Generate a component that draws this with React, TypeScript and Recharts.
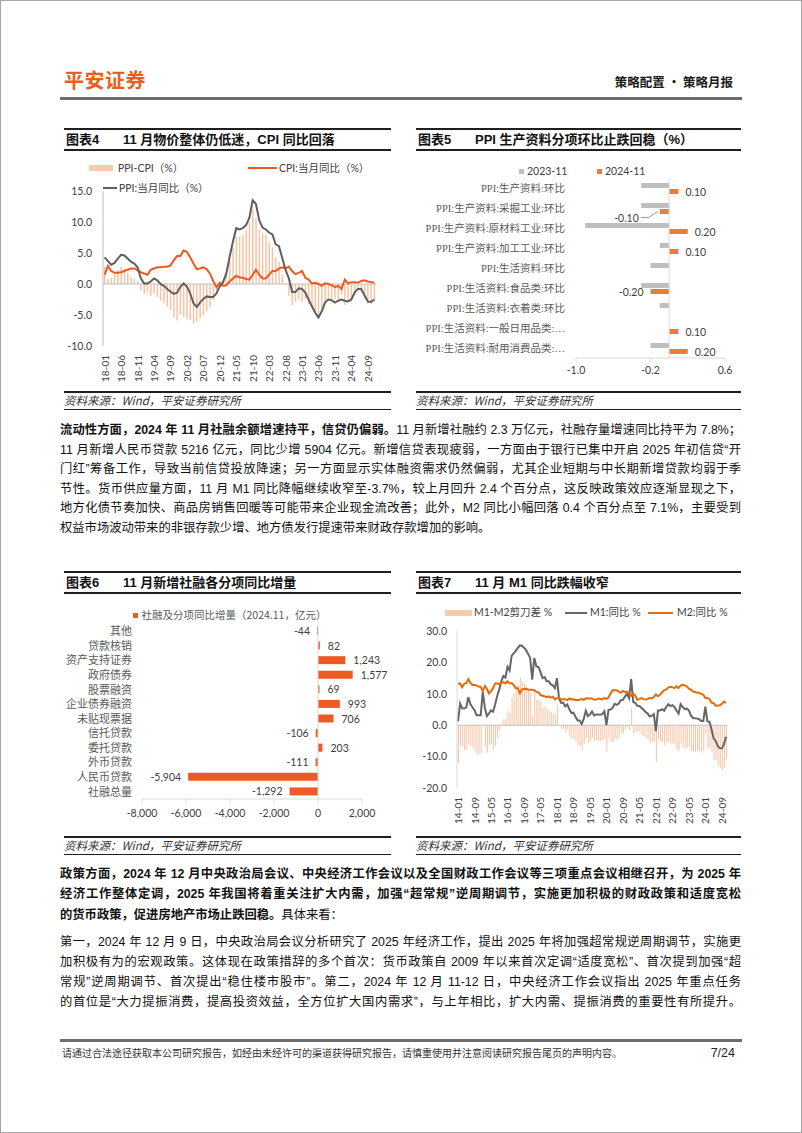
import React from 'react';
import { ComposedChart, BarChart, Bar, Line, XAxis, YAxis, ReferenceLine, LabelList } from 'recharts';

const SANS = '"Liberation Sans", "Noto Sans CJK SC", sans-serif';
const CJK = '"Noto Sans CJK SC", sans-serif';
const NUM = 'Lato, "Noto Sans CJK SC", sans-serif';
const SERIFCJK = '"Liberation Serif", "Noto Sans CJK SC", serif';

// ===== 图表4: CPI / PPI 当月同比 (2018-01 ~ 2024-11) =====
const cpiYoY = [
  1.5, 2.9, 2.1, 1.8, 1.8, 1.9, 2.1, 2.3, 2.5, 2.5, 2.2, 1.9,
  1.7, 1.5, 2.3, 2.5, 2.7, 2.7, 2.8, 2.8, 3.0, 3.8, 4.5, 4.5,
  5.4, 5.2, 4.3, 3.3, 2.4, 2.5, 2.7, 2.4, 1.7, 0.5, -0.5, 0.2,
  -0.3, -0.2, 0.4, 0.9, 1.3, 1.1, 1.0, 0.8, 0.7, 1.5, 2.3, 1.5,
  0.9, 0.9, 1.5, 2.1, 2.1, 2.5, 2.7, 2.5, 2.8, 2.1, 1.6, 1.8,
  2.1, 1.0, 0.7, 0.1, 0.2, 0.0, -0.3, 0.1, 0.0, -0.2, -0.5, -0.3,
  -0.8, 0.7, 0.1, 0.3, 0.3, 0.2, 0.5, 0.6, 0.4, 0.3, 0.2,
];
const ppiYoY = [
  4.3, 3.7, 3.1, 3.4, 4.1, 4.7, 4.6, 4.1, 3.6, 3.3, 2.7, 0.9,
  0.1, 0.1, 0.4, 0.9, 0.6, 0.0, -0.3, -0.8, -1.2, -1.6, -1.4, -0.5,
  0.1, -0.4, -1.5, -3.1, -3.7, -3.0, -2.4, -2.0, -2.1, -2.1, -1.5, -0.4,
  0.3, 1.7, 4.4, 6.8, 9.0, 8.8, 9.0, 9.5, 10.7, 13.5, 12.9, 10.3,
  9.1, 8.8, 8.3, 8.0, 6.4, 6.1, 4.2, 2.3, 0.9, -1.3, -1.3, -0.7,
  -0.8, -1.4, -2.5, -3.6, -4.6, -5.4, -4.4, -3.0, -2.5, -2.6, -3.0, -2.7,
  -2.5, -2.7, -2.8, -2.5, -1.4, -0.8, -0.8, -1.8, -2.8, -2.9, -2.5,
];
const chart4Ticks = [-10, -5, 0, 5, 10, 15];

// ===== 图表5: PPI 生产资料分项环比 =====
const ppiItems = [
  'PPI:生产资料:环比',
  'PPI:生产资料:采掘工业:环比',
  'PPI:生产资料:原材料工业:环比',
  'PPI:生产资料:加工工业:环比',
  'PPI:生活资料:环比',
  'PPI:生活资料:食品类:环比',
  'PPI:生活资料:衣着类:环比',
  'PPI:生活资料:一般日用品类:…',
  'PPI:生活资料:耐用消费品类:…',
];
const mom2023_11 = [-0.3, -0.3, -0.9, -0.1, -0.2, -0.3, -0.1, 0.0, -0.2];
const mom2024_11 = [0.1, -0.1, 0.2, 0.1, 0.0, -0.2, 0.0, 0.1, 0.2];
const chart5Ticks = [-1.0, -0.2, 0.6];

// ===== 图表6: 11月新增社融各分项同比增量 =====
const tsfItems = ['其他', '贷款核销', '资产支持证券', '政府债券', '股票融资', '企业债券融资', '未贴现票据', '信托贷款', '委托贷款', '外币贷款', '人民币贷款', '社融总量'];
const tsfYoYChange = [-44, 82, 1243, 1577, 69, 993, 706, -106, 203, -111, -5904, -1292];
const chart6Ticks = [-8000, -6000, -4000, -2000, 0, 2000];

// ===== 图表7: M1 / M2 同比 (2014-01 ~ 2024-11) =====
const m1YoY = [
  1.2, 6.9, 5.4, 5.3, 5.7, 8.9, 6.7, 5.7, 4.8, 3.2, 3.2, 3.2,
  10.6, 5.6, 2.9, 3.7, 4.7, 4.3, 6.6, 9.3, 11.4, 14.0, 15.7, 15.2,
  18.6, 17.4, 22.1, 22.9, 23.7, 24.6, 25.4, 25.3, 24.7, 23.9, 22.7, 21.4,
  14.5, 21.4, 18.8, 18.5, 17.0, 15.0, 15.3, 14.0, 14.0, 13.0, 12.7, 11.8,
  15.0, 8.5, 7.1, 7.2, 6.0, 6.6, 5.1, 3.9, 4.0, 2.7, 1.5, 1.5,
  0.4, 2.0, 4.6, 2.9, 3.4, 4.4, 3.1, 3.4, 3.4, 3.3, 3.5, 4.4,
  0.0, 4.8, 5.0, 5.5, 6.8, 6.5, 6.9, 8.0, 8.1, 9.1, 10.0, 8.6,
  14.7, 7.4, 7.1, 6.2, 6.1, 5.5, 4.9, 4.2, 3.7, 2.8, 3.0, 3.5,
  -1.9, 4.7, 4.7, 5.1, 4.6, 5.8, 6.7, 6.1, 6.4, 5.8, 4.6, 3.7,
  6.7, 5.8, 5.1, 5.3, 4.7, 3.1, 2.3, 2.2, 2.1, 1.9, 1.3, 1.3,
  5.9, 1.2, 1.1, -1.4, -4.2, -5.0, -6.6, -7.3, -7.4, -6.1, -3.7,
];
const m2YoY = [
  13.2, 13.3, 12.1, 13.2, 13.4, 14.7, 13.5, 12.8, 12.9, 12.6, 12.3, 12.2,
  10.8, 12.5, 11.6, 10.1, 10.8, 11.8, 13.3, 13.3, 13.1, 13.5, 13.7, 13.3,
  14.0, 13.3, 13.4, 12.8, 11.8, 11.8, 10.2, 11.4, 11.5, 11.6, 11.4, 11.3,
  11.3, 11.1, 10.6, 10.5, 9.6, 9.4, 9.2, 8.9, 9.2, 8.8, 9.1, 8.2,
  8.6, 8.8, 8.2, 8.3, 8.3, 8.0, 8.5, 8.2, 8.3, 8.0, 8.0, 8.1,
  8.4, 8.0, 8.6, 8.5, 8.5, 8.5, 8.1, 8.2, 8.4, 8.4, 8.2, 8.7,
  8.4, 8.8, 10.1, 11.1, 11.1, 11.1, 10.7, 10.4, 10.9, 10.5, 10.7, 10.1,
  9.4, 10.1, 9.4, 8.1, 8.3, 8.6, 8.3, 8.2, 8.3, 8.7, 8.5, 9.0,
  9.8, 9.2, 9.7, 10.5, 11.1, 11.4, 12.0, 12.2, 12.1, 11.8, 12.4, 11.8,
  12.6, 12.9, 12.7, 12.4, 11.6, 11.3, 10.7, 10.6, 10.3, 10.3, 10.0, 9.7,
  8.7, 8.7, 8.3, 7.2, 7.0, 6.2, 6.3, 6.3, 6.8, 7.5, 7.1,
];
const chart7Ticks = [-20, -15, -10, -5, 0, 5, 10, 15, 20, 25, 30];

const monthLabels = (startYY: number, count: number) =>
  Array.from({ length: count }, (_, i) =>
    `${String(startYY + Math.floor(i / 12)).padStart(2, '0')}-${String((i % 12) + 1).padStart(2, '0')}`);

const chart4Data = monthLabels(18, cpiYoY.length).map((m, i) => ({
  m, cpi: cpiYoY[i], ppi: ppiYoY[i], gap: Math.round((ppiYoY[i] - cpiYoY[i]) * 10) / 10,
}));
const chart5Data = ppiItems.map((name, i) => ({ name, a: mom2023_11[i], b: mom2024_11[i] }));
const chart6Data = tsfItems.map((name, i) => ({ name, v: tsfYoYChange[i] }));
const chart7Data = monthLabels(14, m1YoY.length).map((m, i) => ({
  m, m1: m1YoY[i], m2: m2YoY[i], gap: Math.round((m1YoY[i] - m2YoY[i]) * 10) / 10,
}));

// ===== helpers =====
const RotTick = (props: any) => {
  const { x, y, payload } = props;
  return (
    <text x={x} y={y} transform={`rotate(-90 ${x} ${y})`} textAnchor="end" dominantBaseline="central"
      fontSize={10} fill="#404040" fontFamily={NUM}>{payload.value}</text>
  );
};

const geom = (props: any) => {
  const vb = props.viewBox || {};
  const x = props.x ?? vb.x; const y = props.y ?? vb.y;
  const w = props.width ?? vb.width; const h = props.height ?? vb.height;
  return { left: Math.min(x, x + w), right: Math.max(x, x + w), cy: y + h / 2, w: Math.abs(w) };
};

const momLabel = (props: any) => {
  const v = Number(props.value);
  const { left, right, cy, w } = geom(props);
  const st = { fontSize: 10.5, fill: '#404040', fontFamily: NUM };
  const t = v.toFixed(2);
  if (v > 0) return <text x={right + 7} y={cy} dominantBaseline="central" {...st}>{t}</text>;
  if (v === 0) return <text x={right + 10} y={cy} dominantBaseline="central" {...st}>{t}</text>;
  if (w < 12) {
    return (
      <g>
        <polyline points={`${left - 19},${cy + 6} ${left - 11},${cy + 6} ${left - 2},${cy}`} fill="none" stroke="#7f7f7f" strokeWidth={0.8} />
        <text x={left - 21} y={cy + 6} textAnchor="end" dominantBaseline="central" {...st}>{t}</text>
      </g>
    );
  }
  return <text x={left - 7} y={cy} textAnchor="end" dominantBaseline="central" {...st}>{t}</text>;
};

const tsfLabel = (props: any) => {
  const v = Number(props.value);
  const { left, right, cy } = geom(props);
  const st = { fontSize: 10.5, fill: '#404040', fontFamily: NUM };
  const t = v.toLocaleString('en-US');
  if (v >= 0) return <text x={right + 8} y={cy} dominantBaseline="central" {...st}>{t}</text>;
  return <text x={left - 7} y={cy} textAnchor="end" dominantBaseline="central" {...st}>{t}</text>;
};

const Abs = ({ x, y, w, h, bg }: any) => (
  <div style={{ position: 'absolute', left: x, top: y, width: w, height: h, background: bg }} />
);

const Txt = ({ x, right, cy, size, children, style }: any) => (
  <div style={{
    position: 'absolute', left: x, right, top: cy - size * 0.6, fontSize: size, lineHeight: `${size * 1.2}px`,
    whiteSpace: 'nowrap', fontFamily: SANS, ...style,
  }}>{children}</div>
);

const ChartBox = ({ x1, x2, top, bottom, num, title }: any) => (
  <>
    <Abs x={x1} y={top - 1} w={x2 - x1} h={2} bg="#1f1f1f" />
    <Txt x={x1 + 2} cy={top + 10.5} size={13} style={{ fontWeight: 700, color: '#111' }}>{`图表${num}`}</Txt>
    <Txt x={x1 + 59} cy={top + 10.5} size={13} style={{ fontWeight: 700, color: '#111' }}>{title}</Txt>
    <Abs x={x1} y={top + 19.5} w={x2 - x1} h={2} bg="#1f1f1f" />
    <Abs x={x1} y={bottom - 1} w={x2 - x1} h={1.5} bg="#1f1f1f" />
    <Txt x={x1} cy={bottom + 9} size={11.5} style={{ fontStyle: 'italic', color: '#333', fontFamily: CJK }}>资料来源：Wind，平安证券研究所</Txt>
    <Abs x={x1} y={bottom + 16.5} w={x2 - x1} h={1.5} bg="#1f1f1f" />
  </>
);

const P = ({ cy, children, last }: any) => (
  <div style={{
    position: 'absolute', left: 60, top: cy - 10, width: 681, height: 20, lineHeight: '20px', fontSize: 12.3,
    fontFamily: SANS, color: '#111', whiteSpace: 'nowrap', textAlign: 'justify',
    textAlignLast: last ? 'left' : 'justify',
  } as any}>{children}</div>
);

const LegText = ({ x, cy, children }: any) => (
  <Txt x={x} cy={cy} size={10.5} style={{ color: '#404040', fontFamily: NUM }}>{children}</Txt>
);

export default function App() {
  return (
    <div style={{ position: 'absolute', left: 0, top: 0, width: 802, height: 1133, background: '#fff', overflow: 'hidden' }}>
      {/* header */}
      <Txt x={64} cy={80} size={20} style={{ fontWeight: 700, color: '#E8601C', fontFamily: CJK, letterSpacing: 0.5 }}>平安证券</Txt>
      <Txt right={69} cy={81.5} size={12.5} style={{ fontWeight: 700, color: '#1a1a1a', fontFamily: CJK }}>策略配置 · 策略月报</Txt>
      <Abs x={60} y={97} w={682} h={2.5} bg="#6d6d6d" />

      {/* chart boxes */}
      <ChartBox x1={64} x2={391} top={129} bottom={392} num={4} title="11 月物价整体仍低迷，CPI 同比回落" />
      <ChartBox x1={416} x2={741} top={129} bottom={392} num={5} title="PPI 生产资料分项环比止跌回稳（%）" />
      <ChartBox x1={64} x2={391} top={572} bottom={837} num={6} title="11 月新增社融各分项同比增量" />
      <ChartBox x1={416} x2={741} top={572} bottom={837} num={7} title="11 月 M1 同比跌幅收窄" />

      {/* chart 4 legend */}
      <Abs x={89} y={165} w={24} h={6} bg="#F8CBAD" />
      <LegText x={118} cy={168}>PPI-CPI（%）</LegText>
      <Abs x={248} y={167} w={29} h={2} bg="#EE5A1E" />
      <LegText x={279} cy={168}>CPI:当月同比（%）</LegText>
      <Abs x={103} y={187} w={14} h={2} bg="#5F5F5F" />
      <LegText x={119} cy={188}>PPI:当月同比（%）</LegText>

      {/* chart 4 */}
      <div style={{ position: 'absolute', left: 62, top: 160 }}>
        <ComposedChart width={330} height={228} data={chart4Data} margin={{ top: 31, right: 16, bottom: 0, left: 0 }} barCategoryGap={1}>
          <XAxis dataKey="m" interval={4} axisLine={false} tickLine={false} tickSize={6} tickMargin={3} height={42} tick={<RotTick />} />
          <YAxis domain={[-10, 15]} ticks={chart4Ticks} tickFormatter={(v: number) => v.toFixed(1)} width={41}
            axisLine={{ stroke: '#bfbfbf' }} tickLine={false} tickMargin={5}
            tick={{ fontSize: 10.5, fill: '#404040', fontFamily: NUM }} />
          <ReferenceLine y={0} stroke="#bfbfbf" />
          <Bar dataKey="gap" fill="#F6C3A4" barSize={1.5} isAnimationActive={false} />
          <Line dataKey="cpi" stroke="#EE5A1E" strokeWidth={2} dot={false} isAnimationActive={false} />
          <Line dataKey="ppi" stroke="#5F5F5F" strokeWidth={2} dot={false} isAnimationActive={false} />
        </ComposedChart>
      </div>

      {/* chart 5 legend */}
      <Abs x={519} y={169} w={5} h={5} bg="#BFBFBF" />
      <LegText x={527} cy={171.5}>2023-11</LegText>
      <Abs x={597} y={169} w={5} h={5} bg="#ED7D31" />
      <LegText x={605} cy={171.5}>2024-11</LegText>

      {/* chart 5 */}
      <div style={{ position: 'absolute', left: 412, top: 158 }}>
        <BarChart layout="vertical" width={330} height={222} data={chart5Data} margin={{ top: 20, right: 17, bottom: 0, left: 0 }} barGap={1}>
          <XAxis type="number" domain={[-1, 0.6]} ticks={chart5Ticks} tickFormatter={(v: number) => v.toFixed(1)}
            axisLine={{ stroke: '#d9d9d9' }} tickLine={{ stroke: '#d9d9d9' }} tickSize={3} tickMargin={6} height={22}
            tick={{ fontSize: 10.5, fill: '#404040', fontFamily: NUM }} />
          <YAxis type="category" dataKey="name" width={164} axisLine={false} tickLine={false} tickMargin={5} interval={0}
            tick={{ fontSize: 10.5, fill: '#595959', fontFamily: SERIFCJK }} />
          <ReferenceLine x={0} stroke="#d9d9d9" />
          <Bar dataKey="a" fill="#BFBFBF" barSize={5} isAnimationActive={false} />
          <Bar dataKey="b" fill="#ED7D31" barSize={5} isAnimationActive={false}>
            <LabelList dataKey="b" content={momLabel} />
          </Bar>
        </BarChart>
      </div>

      {/* paragraph 1 */}
      <P cy={430}><b>流动性方面，2024 年 11 月社融余额增速持平，信贷仍偏弱。</b>11 月新增社融约 2.3 万亿元，社融存量增速同比持平为 7.8%；</P>
      <P cy={449.6}>11 月新增人民币贷款 5216 亿元，同比少增 5904 亿元。新增信贷表现疲弱，一方面由于银行已集中开启 2025 年初信贷“开</P>
      <P cy={469.2}>门红”筹备工作，导致当前信贷投放降速；另一方面显示实体融资需求仍然偏弱，尤其企业短期与中长期新增贷款均弱于季</P>
      <P cy={488.8}>节性。货币供应量方面，11 月 M1 同比降幅继续收窄至-3.7%，较上月回升 2.4 个百分点，这反映政策效应逐渐显现之下，</P>
      <P cy={508.4}>地方化债节奏加快、商品房销售回暖等可能带来企业现金流改善；此外，M2 同比小幅回落 0.4 个百分点至 7.1%，主要受到</P>
      <P cy={528} last>权益市场波动带来的非银存款少增、地方债发行提速带来财政存款增加的影响。</P>

      {/* chart 6 legend */}
      <Abs x={133} y={612.5} w={5} h={5} bg="#EE5A24" />
      <Txt x={141.5} cy={615} size={10.5} style={{ color: '#595959', fontFamily: CJK }}>社融及分项同比增量（2024.11，亿元）</Txt>

      {/* chart 6 */}
      <div style={{ position: 'absolute', left: 62, top: 600 }}>
        <BarChart layout="vertical" width={330} height={223} data={chart6Data} margin={{ top: 24, right: 30, bottom: 0, left: 0 }}>
          <XAxis type="number" domain={[-8000, 2000]} ticks={chart6Ticks} tickFormatter={(v: number) => v.toLocaleString('en-US')}
            axisLine={{ stroke: '#d9d9d9' }} tickLine={{ stroke: '#d9d9d9' }} tickSize={4} tickMargin={7} height={24}
            tick={{ fontSize: 10.5, fill: '#404040', fontFamily: NUM }} />
          <YAxis type="category" dataKey="name" width={80} axisLine={false} tickLine={false} tickMargin={4} interval={0}
            tick={{ fontSize: 11, fill: '#595959', fontFamily: CJK }} />
          <ReferenceLine x={0} stroke="#d9d9d9" />
          <Bar dataKey="v" fill="#EE5A24" barSize={8} isAnimationActive={false}>
            <LabelList dataKey="v" content={tsfLabel} />
          </Bar>
        </BarChart>
      </div>

      {/* chart 7 legend */}
      <Abs x={445} y={609.5} w={27} h={6} bg="#F8CBAD" />
      <LegText x={474} cy={612.5}>M1-M2剪刀差 %</LegText>
      <Abs x={565} y={611.5} w={22} h={2} bg="#666666" />
      <LegText x={590} cy={612.5}>M1:同比 %</LegText>
      <Abs x={648} y={611.5} w={25} h={2} bg="#E46C0A" />
      <LegText x={677} cy={612.5}>M2:同比 %</LegText>

      {/* chart 7 */}
      <div style={{ position: 'absolute', left: 412, top: 622 }}>
        <ComposedChart width={328} height={210} data={chart7Data} margin={{ top: 9, right: 13, bottom: 0, left: 0 }} barCategoryGap={0}>
          <XAxis dataKey="m" interval={7} axisLine={false} tickLine={false} tickSize={6} tickMargin={3} height={44} tick={<RotTick />} />
          <YAxis domain={[-20, 30]} ticks={chart7Ticks} tickFormatter={(v: number) => v.toFixed(1)} width={45}
            axisLine={{ stroke: '#d9d9d9' }} tickLine={false} tickMargin={4}
            tick={{ fontSize: 10.5, fill: '#404040', fontFamily: NUM }} />
          <ReferenceLine y={0} stroke="#bfbfbf" />
          <Bar dataKey="gap" fill="#F6C3A4" barSize={1} isAnimationActive={false} />
          <Line dataKey="m1" stroke="#666666" strokeWidth={2} dot={false} isAnimationActive={false} />
          <Line dataKey="m2" stroke="#E46C0A" strokeWidth={2} dot={false} isAnimationActive={false} />
        </ComposedChart>
      </div>

      {/* paragraph 2 */}
      <P cy={873.5}><b>政策方面，2024 年 12 月中央政治局会议、中央经济工作会议以及全国财政工作会议等三项重点会议相继召开，为 2025 年</b></P>
      <P cy={894}><b>经济工作整体定调，2025 年我国将着重关注扩大内需，加强“超常规”逆周期调节，实施更加积极的财政政策和适度宽松</b></P>
      <P cy={914.5} last><b>的货币政策，促进房地产市场止跌回稳。</b>具体来看：</P>

      {/* paragraph 3 */}
      <P cy={941.5}>第一，2024 年 12 月 9 日，中央政治局会议分析研究了 2025 年经济工作，提出 2025 年将加强超常规逆周期调节，实施更</P>
      <P cy={961.5}>加积极有为的宏观政策。这体现在政策措辞的多个首次：货币政策自 2009 年以来首次定调“适度宽松”、首次提到加强“超</P>
      <P cy={981.5}>常规”逆周期调节、首次提出“稳住楼市股市”。第二，2024 年 12 月 11-12 日，中央经济工作会议指出 2025 年重点任务</P>
      <P cy={1001.5}>的首位是“大力提振消费，提高投资效益，全方位扩大国内需求”，与上年相比，扩大内需、提振消费的重要性有所提升。</P>

      {/* footer */}
      <Abs x={60} y={1039} w={682} h={2.5} bg="#6d6d6d" />
      <Txt x={62} cy={1053} size={10} style={{ color: '#333', fontFamily: CJK }}>请通过合法途径获取本公司研究报告，如经由未经许可的渠道获得研究报告，请慎重使用并注意阅读研究报告尾页的声明内容。</Txt>
      <Txt right={67} cy={1053} size={12.5} style={{ color: '#222' }}>7/24</Txt>

      {/* page frame */}
      <div style={{ position: 'absolute', left: 0, top: 0, width: 802, height: 1133, boxSizing: 'border-box', border: '1px solid #a6a6a6', pointerEvents: 'none' }} />
    </div>
  );
}
